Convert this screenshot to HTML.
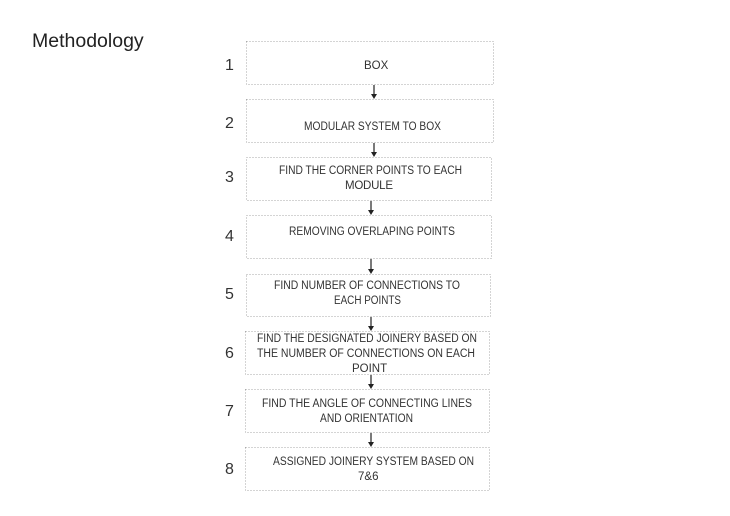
<!DOCTYPE html>
<html><head><meta charset="utf-8"><style>
html,body{margin:0;padding:0;background:#fff;width:730px;height:516px;overflow:hidden}
svg{display:block}
.t text{font-family:"Liberation Sans",sans-serif;font-size:11.5px;fill:#333}
.s{font-size:11px}
.n{font-family:"Liberation Sans",sans-serif;font-size:16px;fill:#333}
rect{fill:none;stroke:#aaa;stroke-width:1;stroke-dasharray:1 2}
line{stroke:#222;stroke-width:1.2}
</style></head><body>
<svg width="730" height="516" viewBox="0 0 730 516">
<text x="32" y="47" font-family="Liberation Sans,sans-serif" font-size="19.5" fill="#222">Methodology</text>
<g>
<rect x="246.5" y="41.5" width="247" height="43"/>
<rect x="246.5" y="99.5" width="247" height="43"/>
<rect x="246.5" y="157.5" width="245" height="43"/>
<rect x="246.5" y="215.5" width="245" height="43"/>
<rect x="246.5" y="274.5" width="244" height="42"/>
<rect x="245.5" y="331.5" width="244" height="43"/>
<rect x="245.5" y="389.5" width="244" height="43"/>
<rect x="245.5" y="447.5" width="244" height="43"/>
</g>
<g class="n">
<text x="225" y="70">1</text>
<text x="225" y="128">2</text>
<text x="225" y="182">3</text>
<text x="225" y="241">4</text>
<text x="225" y="299">5</text>
<text x="225" y="358">6</text>
<text x="225" y="416">7</text>
<text x="225" y="474">8</text>
</g>
<g class="t">
<text class="s" x="364" y="69">BOX</text>
<text x="304" y="130" textLength="137" lengthAdjust="spacingAndGlyphs">MODULAR SYSTEM TO BOX</text>
<text x="279" y="174" textLength="183" lengthAdjust="spacingAndGlyphs">FIND THE CORNER POINTS TO EACH</text>
<text class="s" x="345" y="189" textLength="48" lengthAdjust="spacing">MODULE</text>
<text x="289" y="235" textLength="166" lengthAdjust="spacingAndGlyphs">REMOVING OVERLAPING POINTS</text>
<text x="274" y="289" textLength="186" lengthAdjust="spacingAndGlyphs">FIND NUMBER OF CONNECTIONS TO</text>
<text x="334" y="304" textLength="67" lengthAdjust="spacingAndGlyphs">EACH POINTS</text>
<text x="257" y="342" textLength="220" lengthAdjust="spacingAndGlyphs">FIND THE DESIGNATED JOINERY BASED ON</text>
<text x="257" y="357" textLength="218" lengthAdjust="spacingAndGlyphs">THE NUMBER OF CONNECTIONS ON EACH</text>
<text class="s" x="352" y="372">POINT</text>
<text x="262" y="407" textLength="210" lengthAdjust="spacingAndGlyphs">FIND THE ANGLE OF CONNECTING LINES</text>
<text x="320" y="422" textLength="93" lengthAdjust="spacingAndGlyphs">AND ORIENTATION</text>
<text x="273" y="465" textLength="201" lengthAdjust="spacingAndGlyphs">ASSIGNED JOINERY SYSTEM BASED ON</text>
<text class="s" x="358" y="480">7&amp;6</text>
</g>
<g fill="#222">
<line x1="374" y1="85" x2="374" y2="95"/><path d="M371 94 L377 94 L374 99 Z"/>
<line x1="374" y1="143" x2="374" y2="153"/><path d="M371 152 L377 152 L374 157 Z"/>
<line x1="371" y1="201" x2="371" y2="211"/><path d="M368 210 L374 210 L371 215 Z"/>
<line x1="371" y1="259" x2="371" y2="270"/><path d="M368 269 L374 269 L371 274 Z"/>
<line x1="371" y1="317" x2="371" y2="327"/><path d="M368 326 L374 326 L371 331 Z"/>
<line x1="371" y1="375" x2="371" y2="385"/><path d="M368 384 L374 384 L371 389 Z"/>
<line x1="371" y1="433" x2="371" y2="443"/><path d="M368 442 L374 442 L371 447 Z"/>
</g>
</svg>
</body></html>
